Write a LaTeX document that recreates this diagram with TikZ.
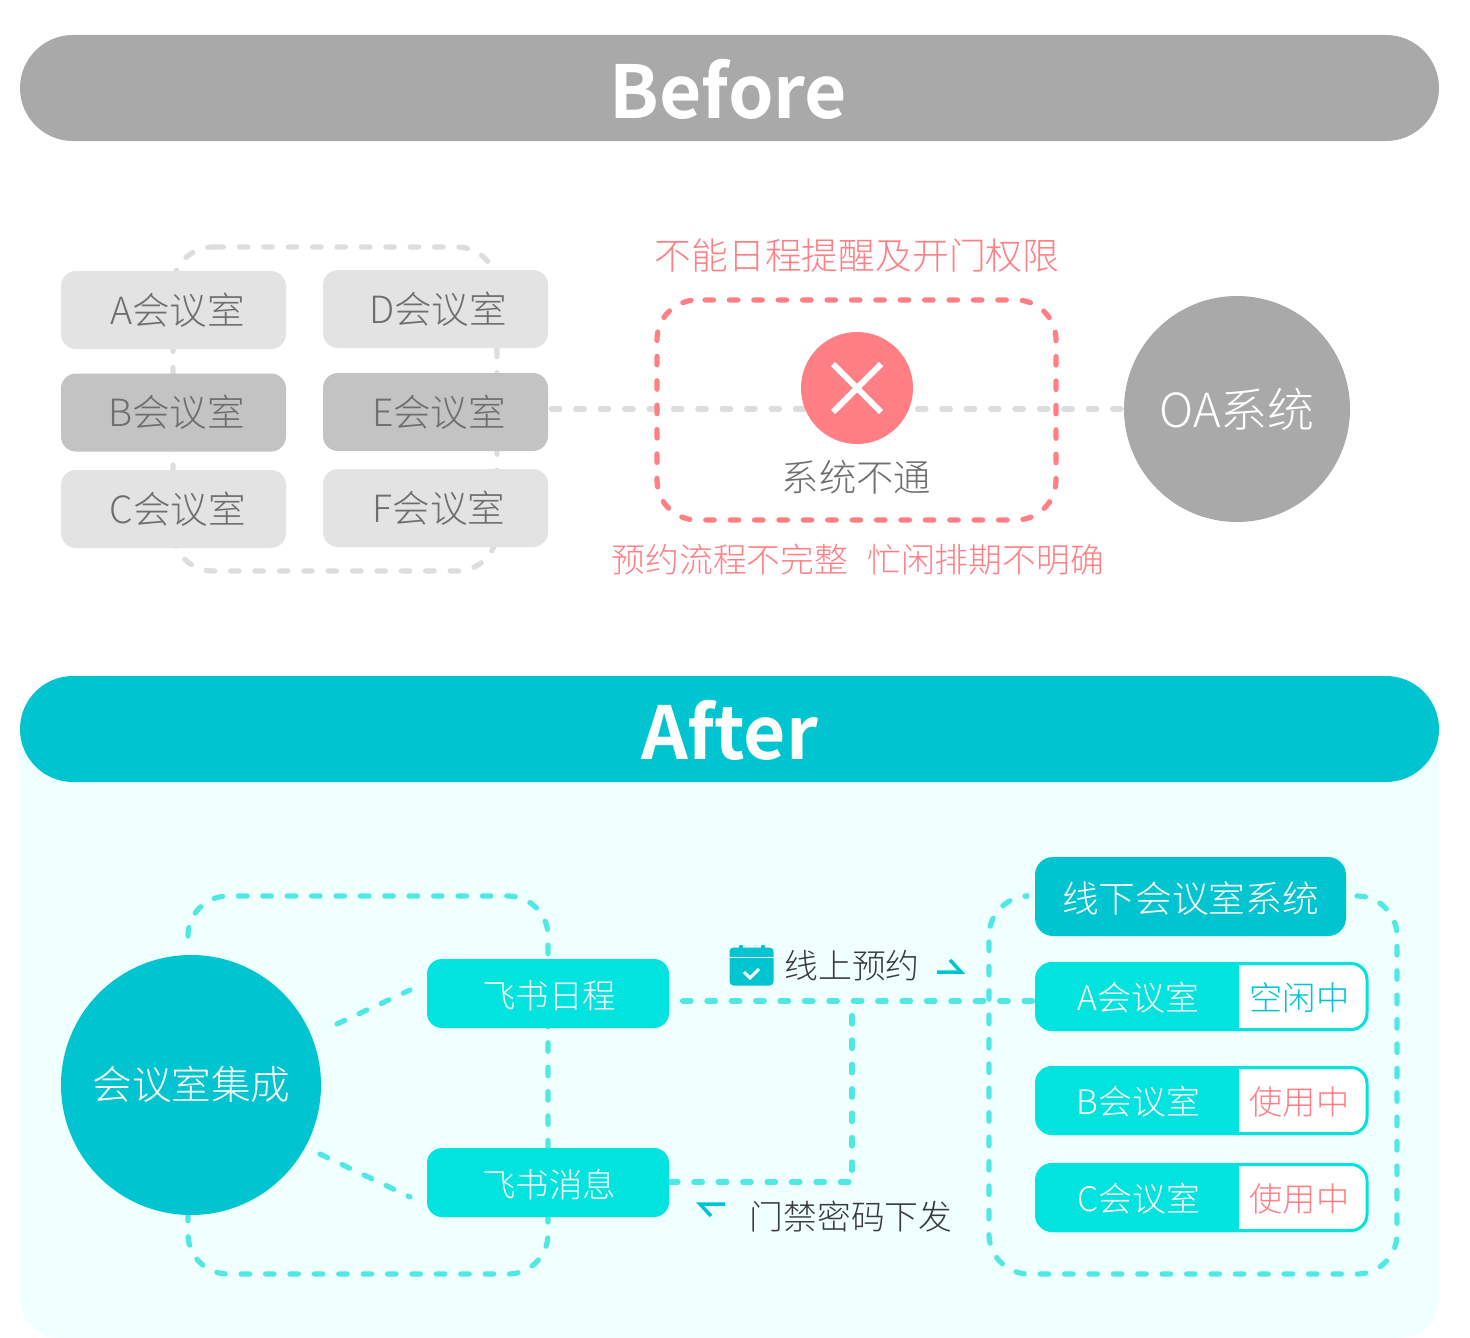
\documentclass[tikz,border=0pt]{standalone}
\usepackage{fontspec}
\setmainfont{Noto Sans CJK SC}[UprightFont=* Light,BoldFont=* Bold]
\usetikzlibrary{calc}
\definecolor{teal1}{HTML}{00C5D0}
\definecolor{teal2}{HTML}{00E3DE}
\definecolor{dashT}{HTML}{4FE8E5}
\definecolor{pale}{HTML}{F0FFFF}
\definecolor{barG}{HTML}{A9A9A9}
\definecolor{lightG}{HTML}{E3E3E3}
\definecolor{midG}{HTML}{C3C3C3}
\definecolor{dashG}{HTML}{DDDDDD}
\definecolor{redc}{HTML}{FF7F84}
\definecolor{txtG}{HTML}{6E6E6E}
\definecolor{txtD}{HTML}{3A3A3A}
\pgfdeclarelayer{bg}
\pgfsetlayers{bg,main}
\tikzset{
  x=1pt,y=-1pt,
  box/.style={inner sep=0pt,outer sep=0pt,align=center},
  bar/.style={box,minimum width=1419pt,minimum height=106pt,rounded corners=53pt,text=white},
  roomG/.style={box,minimum width=225pt,minimum height=78pt,rounded corners=15pt,text=txtG,font=\fontsize{37.5}{40}\selectfont},
  lightroom/.style={roomG,fill=lightG},
  midroom/.style={roomG,fill=midG},
  dashgray/.style={draw=dashG,line width=5.2pt,line cap=round,dash pattern=on 8.5pt off 15.9pt},
  dashred/.style={draw=redc,line width=5.2pt,line cap=round,dash pattern=on 8.5pt off 15.9pt},
  dashteal/.style={draw=dashT,line width=5.2pt,line cap=round,dash pattern=on 8.5pt off 15.9pt},
  fsbox/.style={box,fill=teal2,minimum width=242pt,minimum height=69pt,rounded corners=15pt,text=white},
  fstxt/.style={box,text=white,font=\fontsize{33.5}{36}\selectfont},
  redtxt/.style={box,text=redc},
  statusbox/.style={box,draw=teal2,line width=3pt,fill=white,minimum width=330pt,minimum height=66pt,rounded corners=16pt},
  lefttxt/.style={box,text=white,font=\fontsize{33.8}{36}\selectfont},
  halfarrow/.style={draw=teal1,line width=3.5pt,line join=miter},
}
\begin{document}
\begin{tikzpicture}
\useasboundingbox (0,0) rectangle (1470,1338);
% panel
\begin{pgfonlayer}{bg}
\fill[white] (0,0) rectangle (1470,1338);
\fill[pale,rounded corners=40pt] (20,700) rectangle (1439,1338);
\end{pgfonlayer}
% bars
\node[bar,fill=barG] (before) at (729.5,88) {};
\node[box,text=white,font=\fontsize{73}{73}\selectfont\bfseries] (beforet) at (728.5,89) {Before};
\node[bar,fill=teal1] (after) at (729.5,729) {};
\node[box,text=white,font=\fontsize{73}{73}\selectfont\bfseries] (aftert) at (729.5,730) {After};
% rooms
\node[lightroom] (ra) at (173.5,310) {\hspace{8pt}A会议室};
\node[lightroom] (rd) at (435.5,309) {\hspace{5pt}D会议室};
\node[midroom]   (rb) at (173.5,412.5) {\hspace{6pt}B会议室};
\node[midroom]   (re) at (435.5,412) {\hspace{7pt}E会议室};
\node[lightroom] (rc) at (173.5,509) {\hspace{8pt}C会议室};
\node[lightroom] (rf) at (435.5,508) {\hspace{7pt}F会议室};
% OA
\node[circle,box,fill=barG,minimum size=226pt,text=white,font=\fontsize{47}{50}\selectfont] (oa) at (1237,409) {OA系统};
% X
\node[circle,box,fill=redc,minimum size=112pt] (xc) at (857,388) {};
\draw[white,line width=6pt] ($(xc)+(-24,-24)$) -- ($(xc)+(24,24)$) ($(xc)+(24,-24)$) -- ($(xc)+(-24,24)$);
\node[box,text=txtG,font=\fontsize{37.3}{40}\selectfont] (bt) at (856.5,477) {系统不通};
\node[redtxt,font=\fontsize{36.8}{40}\selectfont] (r1) at (857,256) {不能日程提醒及开门权限};
\node[redtxt,font=\fontsize{33.8}{36}\selectfont] (r2) at (730,560) {预约流程不完整};
\node[redtxt,font=\fontsize{33.8}{36}\selectfont] (r3) at (985.5,560) {忙闲排期不明确};
\begin{pgfonlayer}{bg}
\draw[dashgray,rounded corners=40pt] (215,247) -- (497,247) -- (497,571) -- (173,571) -- (173,247) -- (215,247);
\draw[dashgray,dash phase=21pt] (re.east |- oa.west) -- (oa.west);
\draw[dashred,rounded corners=40pt] (705,300) -- (1056,300) -- (1056,520) -- (657,520) -- (657,300) -- (705,300);
\end{pgfonlayer}
% After
\node[circle,box,fill=teal1,minimum size=260pt] (hub) at (191,1085) {};
\node[box,text=white,font=\fontsize{39.6}{44}\selectfont] (hubt) at (191.5,1084) {会议室集成};
\node[fsbox] (f1) at (548,993.5) {};
\node[fstxt] (f1t) at (549,995.5) {飞书日程};
\node[fsbox] (f2) at (548,1182.5) {};
\node[fstxt] (f2t) at (549,1184.5) {飞书消息};
\node[box,fill=teal1,minimum width=311pt,minimum height=79pt,rounded corners=18pt] (sys) at (1190.5,896.5) {};
\node[box,text=white,font=\fontsize{36.7}{40}\selectfont] (syst) at (1190.5,898.5) {线下会议室系统};
\foreach \n/\yy/\lab/\st/\co in {a/996.5/A/空闲中/teal1,b/1100.5/B/使用中/redc,c/1197.5/C/使用中/redc}{
  \node[statusbox] (s\n) at (1202,\yy) {};
  \fill[teal2] (1239,\yy-34.5) [rounded corners=17pt] -- (1035,\yy-34.5) -- (1035,\yy+34.5) [sharp corners] -- (1239,\yy+34.5) -- cycle;
  \node[lefttxt] (l\n) at (1138.5,\yy+1.5) {\lab 会议室};
  \node[box,text=\co,font=\fontsize{33.3}{36}\selectfont] (t\n) at (1299.5,\yy+1) {\st};
}
\coordinate (c1) at (682.5,1001);
\coordinate (c2) at (852,1015.5);
\coordinate (c3) at (852,1182);
\coordinate (c4) at (669.5,1182);
\coordinate (h1) at (337,1024);
\coordinate (h2) at (410,990);
\coordinate (h3) at (320,1154);
\coordinate (h4) at (410,1197);
\begin{pgfonlayer}{bg}
\draw[dashteal,rounded corners=40pt] (188,936) -- (188,896) -- (548,896) -- (548,1274) -- (188,1274) -- (188,1200);
\draw[dashteal,rounded corners=40pt] (1357,896) -- (1397,896) -- (1397,1274) -- (989,1274) -- (989,896) -- (1025,896);
\draw[dashteal] (c1) -- (c1 -| sa.west);
\draw[dashteal] (c2) -- (c3);
\draw[dashteal] (c4) -- (c3);
\draw[dashteal] (h1) -- (h2);
\draw[dashteal] (h3) -- (h4);
\end{pgfonlayer}
% calendar icon
\node[box,fill=teal1,minimum width=44pt,minimum height=38pt,rounded corners=4pt] (cal) at (751.5,966.5) {};
\fill[teal1,rounded corners=1pt] (739,945) rectangle (743,952) (761,945) rectangle (765,952);
\draw[pale,line width=1.3pt] (730,957.5) -- (773.5,957.5);
\draw[white,line width=3pt] (744,972) -- (750,978) -- (759,969);
\node[box,text=txtD,font=\fontsize{33.8}{36}\selectfont] (t1) at (852,966) {线上预约};
\node[box,text=txtD,font=\fontsize{33.8}{36}\selectfont] (t2) at (851,1217) {门禁密码下发};
\draw[halfarrow] (937,972) -- (961,972) -- (950,960);
\draw[halfarrow] (725,1204) -- (700,1204) -- (711,1216);
\end{tikzpicture}
\end{document}
